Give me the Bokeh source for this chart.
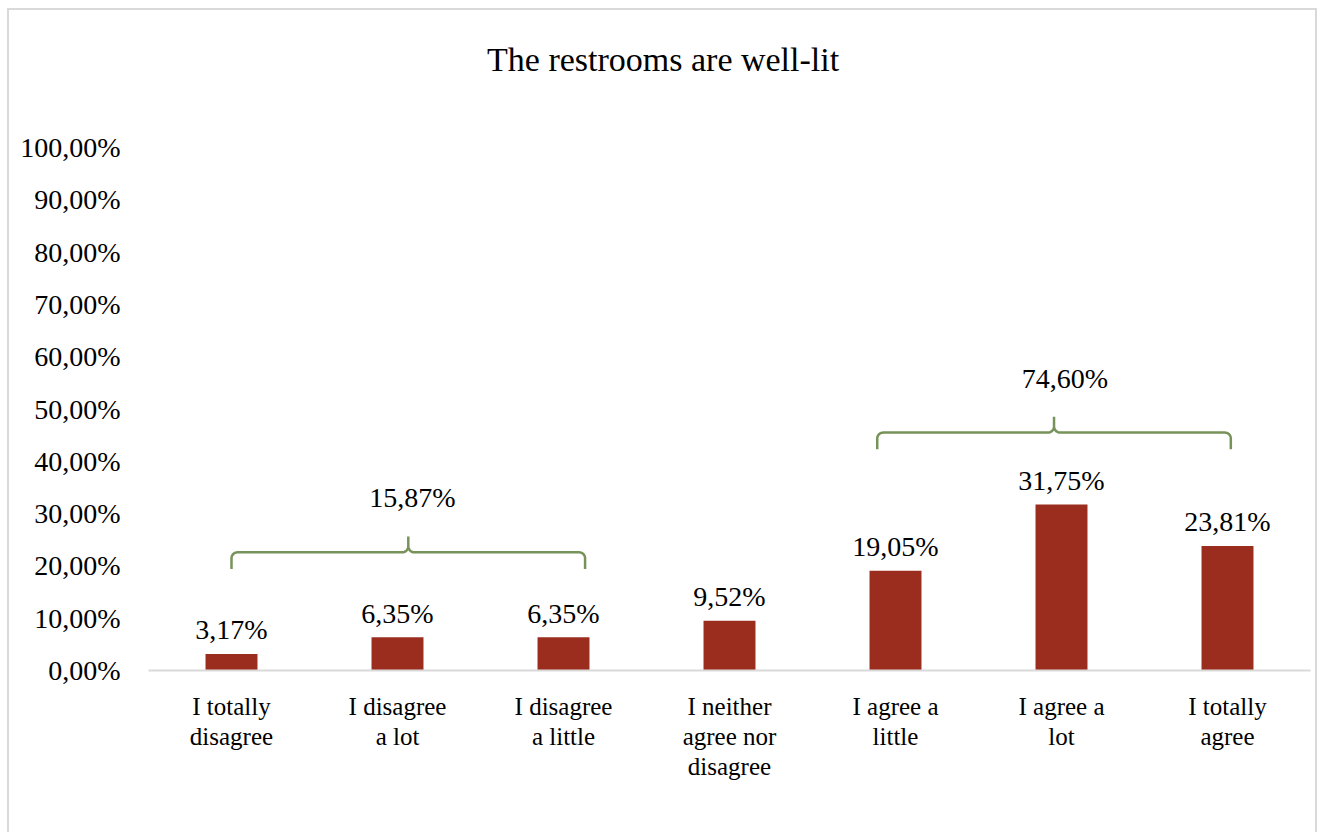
import numpy as np
from bokeh.plotting import figure
from bokeh.models import Range1d, FixedTicker, ColumnDataSource
from bokeh.embed import file_html
from bokeh.resources import INLINE
from bokeh.core.properties import value

# ---------------- data ----------------
title_text = "The restrooms are well-lit"
categories = [
    "I totally\ndisagree",
    "I disagree\na lot",
    "I disagree\na little",
    "I neither\nagree nor\ndisagree",
    "I agree a\nlittle",
    "I agree a\nlot",
    "I totally\nagree",
]
percentages = [3.17, 6.35, 6.35, 9.52, 19.05, 31.75, 23.81]
value_labels = ["3,17%", "6,35%", "6,35%", "9,52%", "19,05%", "31,75%", "23,81%"]

y_ticks = [0, 10, 20, 30, 40, 50, 60, 70, 80, 90, 100]
y_tick_labels = ["0,00%", "10,00%", "20,00%", "30,00%", "40,00%", "50,00%",
                 "60,00%", "70,00%", "80,00%", "90,00%", "100,00%"]

group_totals = ["15,87%", "74,60%"]
bracket_x0 = [0.0, 3.89]
bracket_x1 = [2.13, 6.02]
bracket_y = [22.6, 45.5]
total_label_x = [1.09, 5.02]

# ---------------- style ----------------
FONT = "Liberation Serif"
BAR_COLOR = "#9B2D1F"
BRACKET_COLOR = "#77935A"
GRID_GRAY = "#d9d9d9"

W, H = 1326, 832
p = figure(
    width=W, height=H,
    x_range=Range1d(-0.5, 6.5),
    y_range=Range1d(0, 126.58),
    output_backend="svg",
    toolbar_location=None,
    min_border_left=148, min_border_right=16,
    min_border_top=8, min_border_bottom=162,
)
p.styles = {
    "background": (
        f"linear-gradient({GRID_GRAY},{GRID_GRAY}) 8px 8px / 1309px 2px no-repeat, "
        f"linear-gradient({GRID_GRAY},{GRID_GRAY}) 7px 8px / 2px 824px no-repeat, "
        f"linear-gradient({GRID_GRAY},{GRID_GRAY}) 1315px 8px / 2px 824px no-repeat, "
        "#ffffff"
    )
}
p.border_fill_alpha = 0
p.background_fill_alpha = 0
p.outline_line_color = None
p.xgrid.grid_line_color = None
p.ygrid.grid_line_color = None

xs = list(range(len(categories)))
src = ColumnDataSource(dict(x=xs, top=percentages, lab=value_labels))
p.vbar(x="x", top="top", width=0.313, bottom=0, source=src,
       fill_color=BAR_COLOR, line_color=None)

p.text(x="x", y="top", text="lab", source=src,
       text_font=value(FONT), text_font_size="28px", text_color="#000000",
       text_align="center", text_baseline="middle", y_offset=-24)

# brackets (curly braces)
rx, ry = 0.036, 1.15      # corner radius in data units
end_drop, peak_up = 3.2, 3.0
t = np.linspace(0, np.pi / 2, 10)
for x0, x1, yb in zip(bracket_x0, bracket_x1, bracket_y):
    xm = (x0 + x1) / 2
    px, py = [x0], [yb - end_drop]
    # left end: vertical going up, turning right
    px += list(x0 + rx - rx * np.cos(t)); py += list(yb - ry + ry * np.sin(t))
    # approach middle, curve up to the tip
    px += list(xm - rx + rx * np.sin(t)); py += list(yb + ry - ry * np.cos(t))
    px += [xm]; py += [yb + peak_up]
    # back down from the tip, curve right
    px += list(xm + rx - rx * np.sin(t[::-1])); py += list(yb + ry - ry * np.cos(t[::-1]))
    # right end: turning down
    px += list(x1 - rx + rx * np.sin(t)); py += list(yb - ry + ry * np.cos(t))
    px += [x1]; py += [yb - end_drop]
    p.line(px, py, line_color=BRACKET_COLOR, line_width=2.5)

tot_src = ColumnDataSource(dict(x=total_label_x, y=[b + 10.4 for b in bracket_y], lab=group_totals))
p.text(x="x", y="y", text="lab", source=tot_src,
       text_font=value(FONT), text_font_size="28px", text_color="#000000",
       text_align="center", text_baseline="middle")

# title
p.text(x=[2.60], y=[116.8], text=[title_text],
       text_font=value(FONT), text_font_size="34px", text_color="#000000",
       text_align="center", text_baseline="alphabetic")

# axes
p.xaxis.ticker = FixedTicker(ticks=xs)
p.xaxis.major_label_overrides = {i: c for i, c in zip(xs, categories)}
p.xaxis.axis_line_color = GRID_GRAY
p.xaxis.axis_line_width = 2
p.xaxis.major_tick_line_color = None
p.xaxis.minor_tick_line_color = None
p.xaxis.major_label_text_font = FONT
p.xaxis.major_label_text_font_size = "25px"
p.xaxis.major_label_text_color = "#000000"
p.xaxis.major_label_text_line_height = 1.12
p.xaxis.major_label_standoff = 16

p.yaxis.ticker = FixedTicker(ticks=y_ticks)
p.yaxis.major_label_overrides = {v: l for v, l in zip(y_ticks, y_tick_labels)}
p.yaxis.axis_line_color = None
p.yaxis.major_tick_line_color = None
p.yaxis.minor_tick_line_color = None
p.yaxis.major_label_text_font = FONT
p.yaxis.major_label_text_font_size = "28px"
p.yaxis.major_label_text_color = "#000000"
p.yaxis.major_label_standoff = 22

open("out.html", "w").write(file_html(p, INLINE))
